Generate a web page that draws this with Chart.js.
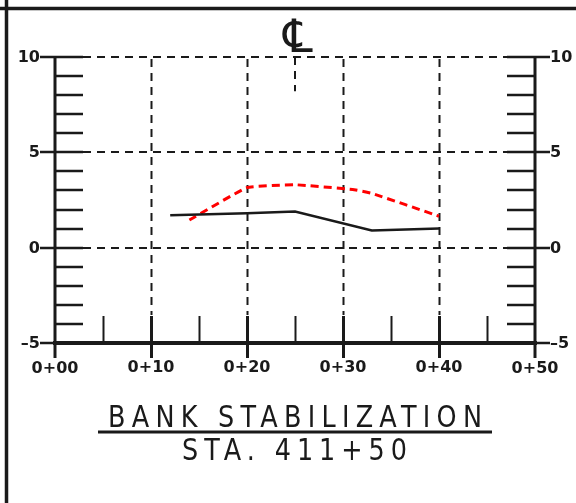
<!DOCTYPE html>
<html>
<head>
<script src="https://cdn.jsdelivr.net/npm/chart.js"></script>
<style>
  html, body { margin: 0; padding: 0; background: #fff; }
  #wrap { width: 576px; height: 503px; }
</style>
</head>
<body>
<div id="wrap"><canvas id="myChart" width="576" height="503"></canvas></div>
<script>
// stations (ft) and elevations
const stationTicks = [0, 10, 20, 30, 40, 50];
const stationLabels = ['0+00', '0+10', '0+20', '0+30', '0+40', '0+50'];
const elevTicks = [10, 5, 0, -5];
const gridX = [10, 20, 30, 40];
const gridY = [10, 5, 0];

const groundX = [12, 20, 25, 33, 40];
const groundY = [1.7, 1.8, 1.9, 0.9, 1.0];

const proposedX = [14, 20, 25, 31, 33, 40];
const proposedY = [1.45, 3.15, 3.3, 3.05, 2.85, 1.65];

const centerX = 25;
const centerDashY = [10, 8.2];

const title = 'BANK STABILIZATION';
const subtitle = 'STA. 411+50';

const INK = '#1a1a1a';

function pts(xs, ys) { return xs.map((x, i) => ({x: x, y: ys[i]})); }

const drawing = {
  id: 'drawing',
  beforeDatasetsDraw(chart) {
    const ctx = chart.ctx, xs = chart.scales.x, ys = chart.scales.y;
    const a = chart.chartArea;
    ctx.save();
    ctx.strokeStyle = INK;
    ctx.lineWidth = 2;
    ctx.setLineDash([8, 6]);
    // vertical dashed grid, stops at the bottom tick band
    gridX.forEach(v => {
      const px = Math.round(xs.getPixelForValue(v)) + 0.5;
      ctx.beginPath();
      ctx.moveTo(px, a.top + 2);
      ctx.lineTo(px, a.bottom - 28);
      ctx.stroke();
    });
    gridY.forEach(v => {
      const py = Math.round(ys.getPixelForValue(v));
      ctx.beginPath();
      ctx.moveTo(a.left + 28, py);
      ctx.lineTo(a.right - 28, py);
      ctx.stroke();
    });
    ctx.restore();
  },
  afterDraw(chart) {
    const ctx = chart.ctx, xs = chart.scales.x, ys = chart.scales.y;
    const a = chart.chartArea;
    ctx.save();
    ctx.strokeStyle = INK;
    ctx.fillStyle = INK;
    ctx.setLineDash([]);

    // sheet border
    ctx.lineWidth = 3.5;
    ctx.beginPath();
    ctx.moveTo(0, 8.5); ctx.lineTo(576, 8.5);
    ctx.moveTo(6.5, 0); ctx.lineTo(6.5, 503);
    ctx.stroke();

    // left and right elevation axes
    ctx.lineWidth = 3;
    ctx.beginPath();
    ctx.moveTo(a.left, a.top); ctx.lineTo(a.left, a.bottom);
    ctx.moveTo(a.right, a.top); ctx.lineTo(a.right, a.bottom);
    ctx.stroke();

    ctx.lineWidth = 2.5;
    for (let v = -5; v <= 10; v++) {
      const py = Math.round(ys.getPixelForValue(v));
      const major = elevTicks.includes(v);
      ctx.beginPath();
      ctx.moveTo(a.left - (major ? 15 : 0), py); ctx.lineTo(a.left + 28, py);
      ctx.moveTo(a.right - 28, py); ctx.lineTo(a.right + (major ? 15 : 0), py);
      ctx.stroke();
    }

    // bottom station axis
    ctx.lineWidth = 4;
    ctx.beginPath();
    ctx.moveTo(a.left - 2, a.bottom); ctx.lineTo(a.right + 2, a.bottom);
    ctx.stroke();
    for (let v = 5; v < 50; v += 5) {
      const px = Math.round(xs.getPixelForValue(v)) + 0.5;
      const major = stationTicks.includes(v);
      ctx.lineWidth = major ? 3 : 2;
      ctx.beginPath();
      ctx.moveTo(px, a.bottom - 27); ctx.lineTo(px, a.bottom + (major ? 15 : 0));
      ctx.stroke();
    }
    ctx.lineWidth = 3;
    [0, 50].forEach(v => {
      const px = xs.getPixelForValue(v);
      ctx.beginPath();
      ctx.moveTo(px, a.bottom); ctx.lineTo(px, a.bottom + 15);
      ctx.stroke();
    });

    // labels
    ctx.font = 'bold 16px "DejaVu Sans"';
    ctx.textBaseline = 'middle';
    elevTicks.forEach(v => {
      const py = ys.getPixelForValue(v);
      ctx.textAlign = 'right';
      ctx.fillText(String(v).replace('-', '\u2013'), a.left - 15, py + 1);
      ctx.textAlign = 'left';
      ctx.fillText(String(v).replace('-', '\u2013'), a.right + 15, py + 1);
    });
    ctx.font = 'bold 16px "DejaVu Sans"';
    ctx.textAlign = 'center';
    stationTicks.forEach((v, i) => {
      const px = xs.getPixelForValue(v);
      const dy = (v === 0 || v === 50) ? 26 : 25;
      ctx.fillText(stationLabels[i], px, a.bottom + dy);
    });

    // centre line symbol
    ctx.font = '46px "DejaVu Sans"';
    ctx.textAlign = 'center';
    ctx.textBaseline = 'alphabetic';
    ctx.fillText('\u2104', xs.getPixelForValue(centerX) + 3, 52);

    // title block
    ctx.font = '30px "DejaVu Sans"';
    ctx.textAlign = 'left';
    ctx.textBaseline = 'alphabetic';
    const fit = (txt, x0, width) => {
      ctx.letterSpacing = '0px';
      const w = ctx.measureText(txt).width * 0.85;
      const sp = (width - w) / (txt.length - 1);
      ctx.letterSpacing = (sp / 0.85) + 'px';
      ctx.save();
      ctx.translate(x0, 0);
      ctx.scale(0.85, 1);
      ctx.fillText(txt, 0, 0);
      ctx.restore();
    };
    ctx.save();
    ctx.translate(0, 427);
    fit(title, 108, 374);
    ctx.restore();
    ctx.lineWidth = 3;
    ctx.beginPath();
    ctx.moveTo(98, 432); ctx.lineTo(492, 432);
    ctx.stroke();
    ctx.save();
    ctx.translate(0, 460);
    fit(subtitle, 182, 225);
    ctx.restore();
    ctx.restore();
  }
};

new Chart(document.getElementById('myChart'), {
  type: 'scatter',
  data: {
    datasets: [
      {
        label: 'Existing ground',
        data: pts(groundX, groundY),
        showLine: true,
        borderColor: INK,
        borderWidth: 2.5,
        pointRadius: 0,
        tension: 0
      },
      {
        label: 'Proposed',
        data: pts(proposedX, proposedY),
        showLine: true,
        borderColor: '#ff0000',
        borderWidth: 3,
        borderDash: [8, 5],
        pointRadius: 0,
        tension: 0.1
      },
      {
        label: 'Centre line',
        data: pts([centerX, centerX], centerDashY),
        showLine: true,
        borderColor: INK,
        borderWidth: 2,
        borderDash: [8, 6],
        pointRadius: 0
      }
    ]
  },
  options: {
    responsive: false,
    animation: false,
    layout: { padding: { left: 55, right: 41, top: 57, bottom: 160 } },
    plugins: { legend: { display: false }, tooltip: { enabled: false } },
    scales: {
      x: { type: 'linear', min: 0, max: 50, display: false },
      y: { type: 'linear', min: -5, max: 10, display: false }
    }
  },
  plugins: [drawing]
});
</script>
</body>
</html>
